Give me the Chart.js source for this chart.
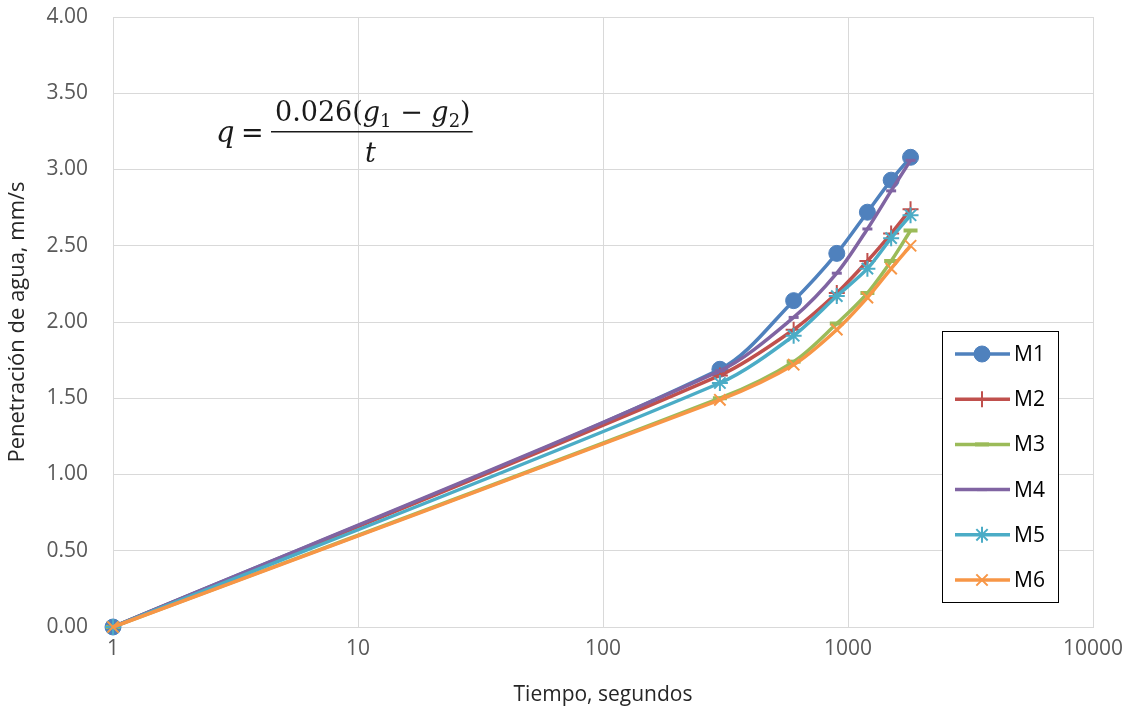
<!DOCTYPE html>
<html lang="es">
<head>
<meta charset="utf-8">
<title>Penetración de agua</title>
<script src="https://cdn.jsdelivr.net/npm/chart.js@4/dist/chart.umd.min.js"></script>
<style>
  html, body { margin: 0; padding: 0; background: #fff; }
  #wrap { width: 1134px; height: 715px; }
</style>
</head>
<body>
<div id="wrap"><canvas id="grafico" width="1134" height="715"></canvas></div>
<script>
// tiempos de lectura (s) y penetración medida por mezcla
const tiempos = [1, 300, 600, 900, 1200, 1500, 1800];
const m1 = [0, 1.69, 2.14, 2.45, 2.72, 2.93, 3.08];
const m2 = [0, 1.65, 1.95, 2.19, 2.40, 2.58, 2.74];
const m3 = [0, 1.50, 1.74, 1.99, 2.19, 2.40, 2.60];
const m4 = [0, 1.68, 2.03, 2.32, 2.61, 2.86, 3.06];
const m5 = [0, 1.60, 1.91, 2.17, 2.35, 2.55, 2.70];
const m6 = [0, 1.49, 1.72, 1.95, 2.16, 2.35, 2.50];

const nombres = ['M1', 'M2', 'M3', 'M4', 'M5', 'M6'];
const series = [m1, m2, m3, m4, m5, m6];
const ticksX = [1, 10, 100, 1000, 10000];

const colores = ['#4F81BD', '#C0504D', '#9BBB59', '#8064A2', '#4BACC6', '#F79646'];
const marcas = [
    { pointStyle: 'circle', radius: 8, borderWidth: 1 },
    { pointStyle: 'cross', radius: 8, borderWidth: 2 },
    { pointStyle: 'line', radius: 7, borderWidth: 4 },
    { pointStyle: 'line', radius: 5, borderWidth: 3 },
    { pointStyle: 'star', radius: 8, borderWidth: 2 },
    { pointStyle: 'crossRot', radius: 8, borderWidth: 2 }
];

const datasets = series.map((valores, i) => ({
    label: nombres[i],
    data: valores.map((v, j) => ({ x: tiempos[j], y: v })),
    borderColor: colores[i],
    backgroundColor: colores[i],
    borderWidth: 3.5,
    tension: 0.3,
    clip: false,
    pointStyle: marcas[i].pointStyle,
    pointRadius: marcas[i].radius,
    pointBorderWidth: marcas[i].borderWidth,
    pointBackgroundColor: colores[i],
    pointBorderColor: colores[i],
    order: series.length - i
}));

// marcador de la leyenda (usa el helper de Chart.js si existe)
function dibujarMarca(ctx, m, x, y) {
    if (Chart.helpers && Chart.helpers.drawPoint) {
        Chart.helpers.drawPoint(ctx, { pointStyle: m.pointStyle, radius: m.radius, borderWidth: m.borderWidth, rotation: 0 }, x, y);
    } else {
        ctx.beginPath();
        ctx.arc(x, y, m.radius, 0, Math.PI * 2);
        ctx.fill();
    }
}

const leyenda = {
    id: 'leyenda',
    afterDraw(chart) {
        const ctx = chart.ctx;
        ctx.save();
        ctx.fillStyle = '#fff';
        ctx.fillRect(942, 331, 116, 271);
        ctx.strokeStyle = '#000';
        ctx.lineWidth = 1;
        ctx.strokeRect(942.5, 331.5, 116, 271);
        ctx.font = '21px "Open Sans"';
        ctx.textBaseline = 'middle';
        nombres.forEach((n, i) => {
            const y = 354 + i * 45.2;
            ctx.strokeStyle = colores[i];
            ctx.fillStyle = colores[i];
            ctx.lineWidth = 3.5;
            ctx.beginPath();
            ctx.moveTo(955, y);
            ctx.lineTo(1010, y);
            ctx.stroke();
            ctx.lineWidth = marcas[i].borderWidth;
            dibujarMarca(ctx, marcas[i], 982, y);
            ctx.fillStyle = '#000';
            ctx.fillText(n, 1014, y + 1);
        });
        ctx.restore();
    }
};

// fórmula q = 0.026(g1 - g2) / t
const formula = {
    id: 'formula',
    afterDraw(chart) {
        const ctx = chart.ctx;
        ctx.save();
        ctx.fillStyle = '#1a1a1a';
        ctx.textBaseline = 'alphabetic';
        const rom = '27px "DejaVu Serif"';
        const ita = 'italic 27px "DejaVu Serif"';
        const sub = '18px "DejaVu Serif"';
        ctx.font = 'italic 29px "DejaVu Serif"';
        ctx.fillText('q', 216, 142);
        ctx.font = rom;
        ctx.fillText('=', 241, 142);
        // numerador
        const trozos = [
            [rom, '0.026(', 0], [ita, 'g', 0], [sub, '1', 6], [rom, ' \u2212 ', 0],
            [ita, 'g', 0], [sub, '2', 6], [rom, ')', 0]
        ];
        let x = 275;
        trozos.forEach(([f, t, dy]) => {
            ctx.font = f;
            ctx.fillText(t, x, 121 + dy);
            x += ctx.measureText(t).width;
        });
        ctx.fillRect(271, 131, x - 269, 1.5);
        ctx.font = ita;
        ctx.fillText('t', 365, 162);
        ctx.restore();
    }
};

new Chart(document.getElementById('grafico'), {
    type: 'line',
    data: { datasets: datasets },
    plugins: [leyenda, formula],
    options: {
        responsive: false,
        animation: false,
        events: [],
        layout: { padding: { top: 17, right: 41, left: 0, bottom: 0 } },
        plugins: { legend: { display: false }, tooltip: { enabled: false } },
        scales: {
            x: {
                type: 'logarithmic',
                min: 1,
                max: 10000,
                afterBuildTicks: (scale) => { scale.ticks = ticksX.map(v => ({ value: v })); },
                afterFit: (scale) => { scale.height = 88; },
                grid: { color: '#d9d9d9', lineWidth: 1, drawTicks: false },
                border: { color: '#d9d9d9' },
                ticks: {
                    padding: 9,
                    color: '#595959',
                    font: { family: 'Open Sans', size: 21 },
                    maxRotation: 0,
                    autoSkip: false,
                    callback: (v) => String(v)
                },
                title: {
                    display: true,
                    text: 'Tiempo, segundos',
                    color: '#262626',
                    font: { family: 'Open Sans', size: 21 },
                    padding: { top: 8, bottom: 7 }
                }
            },
            y: {
                min: 0,
                max: 4,
                // el margen de las etiquetas no debe empujar el área del gráfico
                afterFit: (scale) => { scale.width = 113; scale.paddingTop = 0; scale.paddingBottom = 0; },
                grid: { color: '#d9d9d9', lineWidth: 1, drawTicks: false },
                border: { color: '#d9d9d9' },
                ticks: {
                    stepSize: 0.5,
                    padding: 25,
                    color: '#595959',
                    font: { family: 'Open Sans', size: 21 },
                    callback: (v) => v.toFixed(2)
                },
                title: {
                    display: true,
                    text: 'Penetración de agua, mm/s',
                    color: '#262626',
                    font: { family: 'Open Sans', size: 22 },
                    padding: { top: 5, bottom: 5 }
                }
            }
        }
    }
});
</script>
</body>
</html>
